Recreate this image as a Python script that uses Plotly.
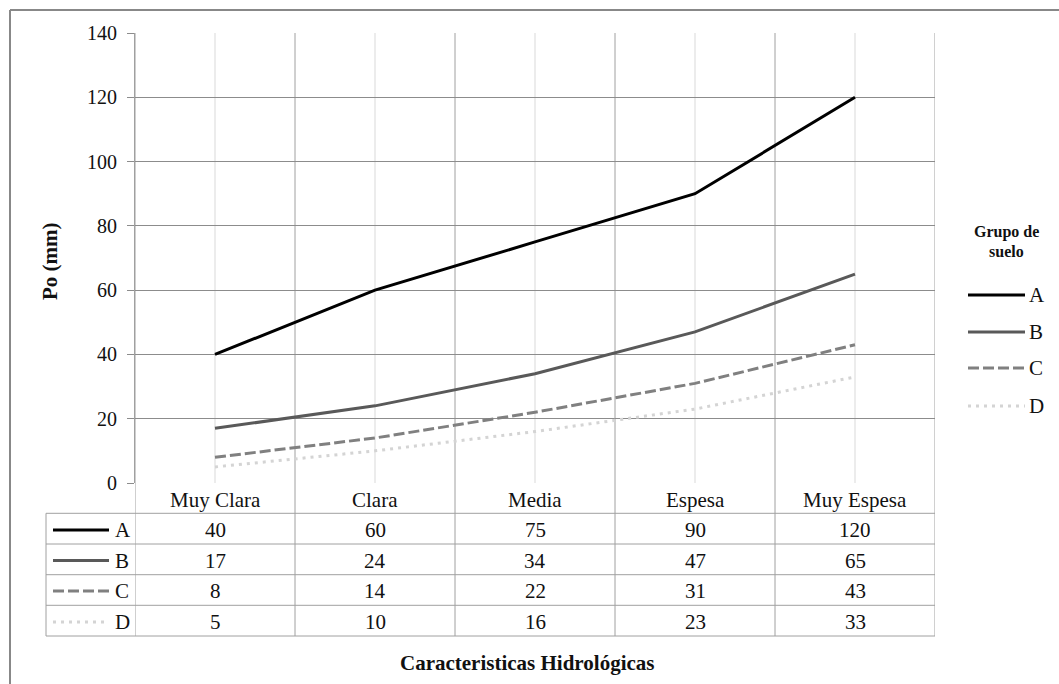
import plotly.graph_objects as go

# ---------------- data ----------------
categories = ["Muy Clara", "Clara", "Media", "Espesa", "Muy Espesa"]
groups = ["A", "B", "C", "D"]
values_A = [40, 60, 75, 90, 120]
values_B = [17, 24, 34, 47, 65]
values_C = [8, 14, 22, 31, 43]
values_D = [5, 10, 16, 23, 33]
y_ticks = [0, 20, 40, 60, 80, 100, 120, 140]
x_title = "Caracteristicas Hidrológicas"
y_title = "Po (mm)"
legend_title_lines = ["Grupo de", "suelo"]

series = {"A": values_A, "B": values_B, "C": values_C, "D": values_D}

# ---------------- styles ----------------
W, H = 1059, 684
FONT = "Liberation Serif"
TXT = "#111111"
colors = {"A": "#000000", "B": "#595959", "C": "#808080", "D": "#d4d4d4"}
dashes = {"A": "solid", "B": "solid", "C": "11px,4px", "D": "3px,5px"}
LW = 3
GRID = "#8c8c8c"
TBL = "#a0a0a0"
LIGHT = "#d9d9d9"

def px(x):
    return x / W

def py(y):
    return 1 - y / H

plot_l, plot_r, plot_t, plot_b = 135, 935, 33, 483
row_lines = [513.3, 544, 574.7, 605.3, 636]
row_centers = [530, 560.5, 591, 622]
header_center = 500

fig = go.Figure()
for g in groups:
    fig.add_trace(go.Scatter(
        x=categories, y=series[g], mode="lines", name=g,
        line=dict(color=colors[g], width=LW, dash=dashes[g]),
        showlegend=False, hoverinfo="x+y+name",
    ))

shapes = []
annotations = []

# outer chart border (top and left)
shapes.append(dict(type="line", xref="paper", yref="paper",
                   x0=px(10), x1=px(W), y0=py(10), y1=py(10),
                   line=dict(color="#888888", width=2)))
shapes.append(dict(type="line", xref="paper", yref="paper",
                   x0=px(10), x1=px(10), y0=py(10), y1=py(H),
                   line=dict(color="#888888", width=2)))

# light vertical gridlines at category centres
for c in categories:
    shapes.append(dict(type="line", xref="x", yref="paper", x0=c, x1=c,
                       y0=py(plot_b), y1=py(plot_t), layer="below",
                       line=dict(color=LIGHT, width=1)))

# category boundary lines through plot and table
n = len(categories)
for i in range(n + 1):
    xb = i - 0.5
    shapes.append(dict(type="line", xref="x", yref="paper", x0=xb, x1=xb,
                       y0=py(row_lines[-1]), y1=py(plot_t), layer="below",
                       line=dict(color=TBL, width=1)))

# table left border and row lines
shapes.append(dict(type="line", xref="paper", yref="paper",
                   x0=px(46), x1=px(46), y0=py(row_lines[0]), y1=py(row_lines[-1]),
                   line=dict(color=TBL, width=1)))
for yl in row_lines:
    shapes.append(dict(type="line", xref="paper", yref="paper",
                       x0=px(46), x1=px(plot_r), y0=py(yl), y1=py(yl),
                       line=dict(color=TBL, width=1)))

# header: category names
for c in categories:
    annotations.append(dict(x=c, xref="x", y=py(header_center), yref="paper",
                            text=c, showarrow=False, xanchor="center", yanchor="middle",
                            font=dict(family=FONT, size=21, color=TXT)))

# table rows
for g, yc in zip(groups, row_centers):
    shapes.append(dict(type="line", xref="paper", yref="paper",
                       x0=px(53), x1=px(109), y0=py(yc), y1=py(yc),
                       line=dict(color=colors[g], width=LW, dash=dashes[g])))
    annotations.append(dict(x=px(113), xref="paper", y=py(yc), yref="paper",
                            text=g, showarrow=False, xanchor="left", yanchor="middle",
                            font=dict(family=FONT, size=21, color=TXT)))
    for c, v in zip(categories, series[g]):
        annotations.append(dict(x=c, xref="x", y=py(yc), yref="paper",
                                text=str(v), showarrow=False, xanchor="center",
                                yanchor="middle",
                                font=dict(family=FONT, size=21, color=TXT)))

# right-hand legend
for txt, yl in zip(legend_title_lines, [232, 251]):
    annotations.append(dict(x=px(1006), xref="paper", y=py(yl), yref="paper",
                            text="<b>" + txt + "</b>", showarrow=False,
                            xanchor="center", yanchor="middle",
                            font=dict(family=FONT, size=16, color=TXT)))
legend_y = [295, 332, 368, 406]
for g, yl in zip(groups, legend_y):
    shapes.append(dict(type="line", xref="paper", yref="paper",
                       x0=px(968), x1=px(1025), y0=py(yl), y1=py(yl),
                       line=dict(color=colors[g], width=LW, dash=dashes[g])))
    annotations.append(dict(x=px(1027), xref="paper", y=py(yl), yref="paper",
                            text=g, showarrow=False, xanchor="left", yanchor="middle",
                            font=dict(family=FONT, size=21, color=TXT)))

# axis titles
annotations.append(dict(x=px(50), xref="paper", y=py(261), yref="paper",
                        text="<b>" + y_title + "</b>", showarrow=False, textangle=-90,
                        xanchor="center", yanchor="middle",
                        font=dict(family=FONT, size=21, color=TXT)))
annotations.append(dict(x=px(527), xref="paper", y=py(663), yref="paper",
                        text="<b>" + x_title + "</b>", showarrow=False,
                        xanchor="center", yanchor="middle",
                        font=dict(family=FONT, size=21, color=TXT)))

fig.update_layout(
    width=W, height=H,
    margin=dict(l=0, r=0, t=0, b=0, pad=0, autoexpand=False),
    paper_bgcolor="white", plot_bgcolor="white",
    showlegend=False,
    font=dict(family=FONT, size=20, color=TXT),
    xaxis=dict(domain=[px(plot_l), px(plot_r)], type="category",
               categoryorder="array", categoryarray=categories,
               range=[-0.5, n - 0.5], showgrid=False, showticklabels=False,
               ticks="", zeroline=False, showline=False, fixedrange=True,
               automargin=False),
    yaxis=dict(domain=[py(plot_b), py(plot_t)], range=[0, 140],
               tickvals=y_ticks, showgrid=True, gridcolor=GRID, gridwidth=1,
               zeroline=False, showline=True, linecolor=TBL, linewidth=1,
               ticks="outside", ticklen=7, tickcolor=GRID,
               ticklabelstandoff=6, automargin=False,
               tickfont=dict(family=FONT, size=20, color=TXT), fixedrange=True),
    shapes=shapes,
    annotations=annotations,
)

post = ("document.body.style.margin='0';"
        "document.body.style.overflow='hidden';"
        "var gd=document.getElementById('{plot_id}');"
        "gd.style.position='absolute';gd.style.left='0px';gd.style.top='0px';")

fig.write_html("out.html", post_script=post, config={"displayModeBar": False})
